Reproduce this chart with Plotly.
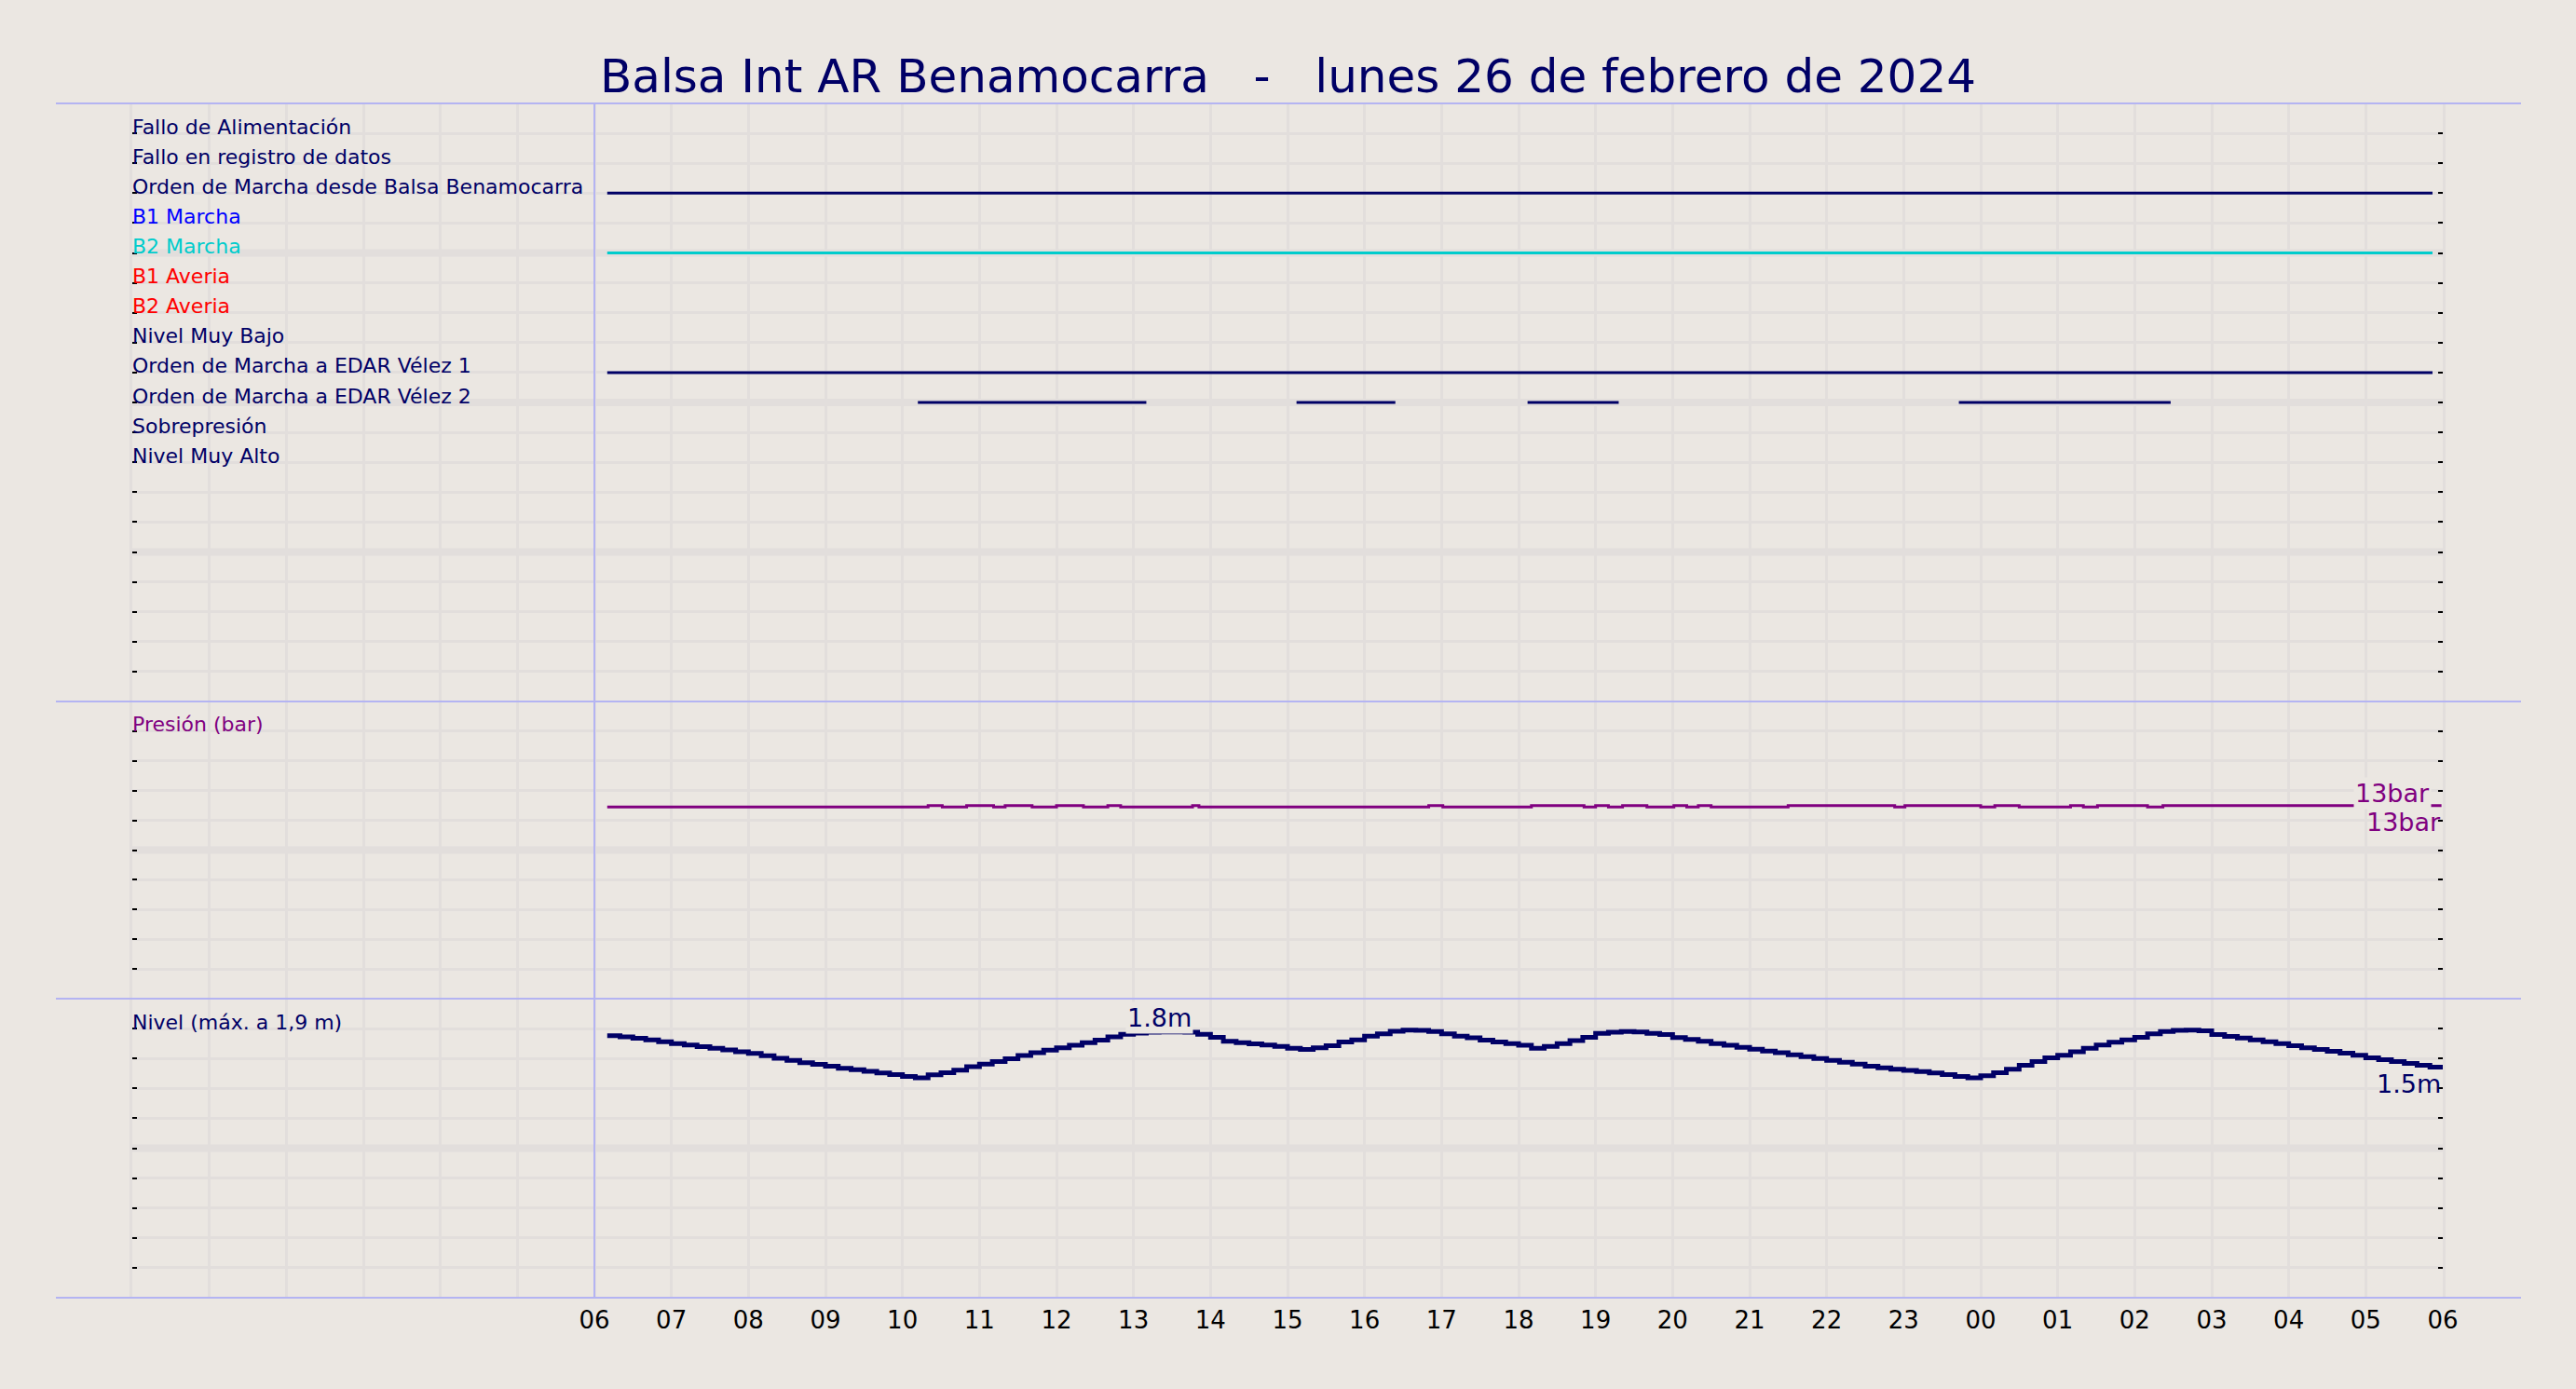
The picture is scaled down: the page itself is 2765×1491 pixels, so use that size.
# gráfico diario de la Balsa Int AR Benamocarra: señales, presión y nivel
import pandas as pd
import plotly.graph_objects as go

DAY0 = pd.Timestamp("2024-02-26 00:00")
DAY_END = pd.Timestamp("2024-02-27 06:00")
TITLE = "Balsa Int AR Benamocarra   -   lunes 26 de febrero de 2024"

# señales digitales, fila 1 arriba
signal_labels = [
    "Fallo de Alimentación",
    "Fallo en registro de datos",
    "Orden de Marcha desde Balsa Benamocarra",
    "B1 Marcha",
    "B2 Marcha",
    "B1 Averia",
    "B2 Averia",
    "Nivel Muy Bajo",
    "Orden de Marcha a EDAR Vélez 1",
    "Orden de Marcha a EDAR Vélez 2",
    "Sobrepresión",
    "Nivel Muy Alto",
]
signal_colors = ["#000066", "#000066", "#000066", "#0000ff", "#00cccc", "#ff0000",
                 "#ff0000", "#000066", "#000066", "#000066", "#000066", "#000066"]

# tramos en marcha de cada señal (inicio, fin)
signal_on = {
    "Orden de Marcha desde Balsa Benamocarra": [("06:10", "05:52")],
    "B2 Marcha": [("06:10", "05:52")],
    "Orden de Marcha a EDAR Vélez 1": [("06:10", "05:52")],
    "Orden de Marcha a EDAR Vélez 2": [("10:12", "13:10"), ("15:07", "16:24"),
                                       ("18:07", "19:18"), ("23:43", "02:28")],
}

# presión (bar), cambios de valor
pressure_t = ["06:10", "10:20", "10:31", "10:50", "11:11", "11:20", "11:41", "12:00",
              "12:21", "12:40", "12:50", "13:46", "13:51", "16:50", "17:01", "18:10",
              "18:51", "19:00", "19:10", "19:21", "19:40", "20:01", "20:11", "20:20",
              "20:30", "21:30", "22:53", "23:01", "00:00", "00:11", "00:30", "01:10",
              "01:20", "01:31", "02:10", "02:22", "05:59"]
pressure_v = [12.9, 13.0, 12.9, 13.0, 12.9, 13.0, 12.9, 13.0,
              12.9, 13.0, 12.9, 13.0, 12.9, 13.0, 12.9, 13.0,
              12.9, 13.0, 12.9, 13.0, 12.9, 13.0, 12.9, 13.0,
              12.9, 13.0, 12.9, 13.0, 12.9, 13.0, 12.9, 13.0,
              12.9, 13.0, 12.9, 13.0, 13.0]

# nivel (m), una lectura cada 10 minutos desde las 06:10
level_start = "06:10"
level_v = [
    1.753, 1.745, 1.735, 1.724, 1.712, 1.700, 1.690, 1.679, 1.668, 1.657, 1.645, 1.634,
    1.618, 1.602, 1.587, 1.572, 1.560, 1.548, 1.535, 1.525, 1.514, 1.503, 1.492, 1.480,
    1.470, 1.490, 1.505, 1.522, 1.545, 1.562, 1.580, 1.598, 1.620, 1.638, 1.655, 1.672,
    1.688, 1.705, 1.722, 1.745, 1.762, 1.770, 1.775, 1.778, 1.778, 1.775, 1.762, 1.742,
    1.715, 1.705, 1.698, 1.690, 1.680, 1.668, 1.660, 1.672, 1.685, 1.710, 1.725, 1.750,
    1.765, 1.782, 1.790, 1.788, 1.780, 1.765, 1.750, 1.738, 1.722, 1.710, 1.700, 1.688,
    1.668, 1.680, 1.700, 1.720, 1.742, 1.768, 1.775, 1.780, 1.778, 1.768, 1.760, 1.740,
    1.728, 1.715, 1.700, 1.688, 1.675, 1.662, 1.650, 1.638, 1.625, 1.612, 1.600, 1.588,
    1.575, 1.562, 1.548, 1.538, 1.528, 1.520, 1.512, 1.503, 1.492, 1.480, 1.470, 1.485,
    1.505, 1.528, 1.555, 1.580, 1.605, 1.622, 1.645, 1.668, 1.690, 1.708, 1.725, 1.742,
    1.765, 1.780, 1.788, 1.790, 1.785, 1.760, 1.748, 1.736, 1.724, 1.712, 1.700, 1.685,
    1.672, 1.660, 1.648, 1.636, 1.622, 1.605, 1.592, 1.580, 1.567, 1.555, 1.542, 1.540,
]

# marcas del eje superior
top_ticks = ["03:27", "07:12", "10:57", "14:42", "18:27", "22:12", "01:57", "05:42"]

BG = "#ebe7e2"
GRID = "#e2dedc"
SEP = "#b4b4f2"
NAVY = "#000066"
PURPLE = "#800080"
FONT = "DejaVu Sans"


def to_dt(hhmm):
    # las horas antes de las 06:00 son del día siguiente
    h, m = map(int, hhmm.split(":"))
    t = DAY0 + pd.Timedelta(hours=h, minutes=m)
    if h < 6:
        t += pd.Timedelta(days=1)
    return t


W, H = 2765, 1491
def px_x(p):
    return p / W
def px_y(p):
    return 1 - p / H

XDOM = [px_x(142), px_x(2622)]
Y1 = [px_y(753), px_y(111)]
Y2 = [px_y(1072), px_y(753)]
Y3 = [px_y(1393), px_y(1072)]

fig = go.Figure()

# señales
for row, name in enumerate(signal_labels, start=1):
    if name not in signal_on:
        continue
    xs, ys = [], []
    for a, b in signal_on[name]:
        xs += [to_dt(a), to_dt(b), None]
        ys += [row, row, None]
    fig.add_trace(go.Scatter(x=xs, y=ys, mode="lines", xaxis="x", yaxis="y",
                             line=dict(color=signal_colors[row - 1], width=3),
                             hoverinfo="skip", showlegend=False))

# presión
fig.add_trace(go.Scatter(x=[to_dt(t) for t in pressure_t], y=pressure_v, mode="lines",
                         xaxis="x2", yaxis="y2", line=dict(color=PURPLE, width=3, shape="hv"),
                         showlegend=False))

# nivel
level_t = pd.date_range(to_dt(level_start), periods=len(level_v), freq="10min")
fig.add_trace(go.Scatter(x=level_t, y=level_v, mode="lines", xaxis="x3", yaxis="y3",
                         line=dict(color=NAVY, width=5, shape="hv"), showlegend=False))

hour_ticks = pd.date_range(DAY0 + pd.Timedelta(hours=6), DAY_END, freq="h")
hour_text = [t.strftime("%H") for t in hour_ticks]

xcommon = dict(domain=XDOM, range=[DAY0, DAY_END], tickmode="array", tickvals=hour_ticks,
               ticktext=hour_text, showgrid=True, gridcolor=GRID, gridwidth=3,
               zeroline=False, showline=False, ticks="", automargin=False,
               minor=dict(dtick=3600000, tick0=DAY0, showgrid=True, gridcolor=GRID,
                          gridwidth=3, ticks=""))
ycommon = dict(ticks="inside", ticklen=5, tickwidth=2, tickcolor="black",
               showticklabels=False, showgrid=True, gridcolor=GRID, gridwidth=3,
               zeroline=False, showline=True, linecolor=GRID, linewidth=3, mirror="ticks",
               automargin=False)

# sin ancho fijo: la figura toma el ancho de la ventana
fig.update_layout(
    height=H,
    margin=dict(l=0, r=0, t=0, b=0, pad=0),
    paper_bgcolor=BG, plot_bgcolor=BG,
    font=dict(family=FONT, color=NAVY),
    showlegend=False,
    title=dict(text=TITLE.replace(" ", "\u00a0"), x=0.5, xanchor="center",
               y=px_y(81), yanchor="middle", automargin=False,
               font=dict(size=50, color=NAVY, family=FONT)),
    xaxis=dict(xcommon, anchor="y", showticklabels=False),
    xaxis2=dict(xcommon, anchor="y2", matches="x", showticklabels=False),
    xaxis3=dict(xcommon, anchor="y3", matches="x", showticklabels=True,
                tickfont=dict(size=26, color="black", family=FONT), ticklabelstandoff=6),
    xaxis4=dict(domain=XDOM, range=[DAY0, DAY_END], overlaying="x", anchor="y", side="top",
                tickmode="array", tickvals=[to_dt(t) for t in top_ticks], ticks="inside",
                ticklen=7, tickwidth=2, tickcolor="black", showticklabels=False,
                showgrid=False, zeroline=False, showline=False, automargin=False),
    yaxis=dict(ycommon, domain=Y1, range=[20, 0], tickvals=list(range(1, 20)), anchor="x"),
    yaxis2=dict(ycommon, domain=Y2, range=[0, 20], tickvals=list(range(2, 20, 2)), anchor="x2"),
    yaxis3=dict(ycommon, domain=Y3, range=[0, 2],
                tickvals=[0.2, 0.4, 0.6, 0.8, 1.0, 1.2, 1.4, 1.6, 1.8], anchor="x3"),
)

# líneas gruesas de la rejilla cada cinco divisiones
for yref, val in [("y", 5), ("y", 10), ("y", 15), ("y2", 10), ("y3", 1.0)]:
    fig.add_shape(type="line", xref="x domain", yref=yref, x0=0, x1=1, y0=val, y1=val,
                  line=dict(color=GRID, width=8), layer="below")

# separadores de paneles
for p in [111, 753, 1072, 1393]:
    fig.add_shape(type="line", xref="paper", yref="paper", x0=px_x(60), x1=px_x(2706),
                  y0=px_y(p), y1=px_y(p), line=dict(color=SEP, width=2))
fig.add_shape(type="line", xref="x", yref="paper", x0=hour_ticks[0], x1=hour_ticks[0],
              y0=px_y(1393), y1=px_y(111), line=dict(color=SEP, width=2))

# etiquetas de filas
for row, name in enumerate(signal_labels, start=1):
    fig.add_annotation(text=name, xref="x domain", yref="y", x=0, y=row, xanchor="left",
                       yanchor="middle", yshift=7, xshift=-2, showarrow=False,
                       font=dict(size=22, color=signal_colors[row - 1], family=FONT))
fig.add_annotation(text="Presión (bar)", xref="x2 domain", yref="y2", x=0, y=18,
                   xanchor="left", yanchor="middle", yshift=7, xshift=-2, showarrow=False,
                   font=dict(size=22, color=PURPLE, family=FONT))
fig.add_annotation(text="Nivel (máx. a 1,9 m)", xref="x3 domain", yref="y3", x=0, y=1.8,
                   xanchor="left", yanchor="middle", yshift=7, xshift=-2, showarrow=False,
                   font=dict(size=22, color=NAVY, family=FONT))

# valores destacados
p_max = max(pressure_v)
p_last = pressure_v[-1]
fig.add_annotation(text=f"{p_max:.0f}bar", xref="x2", yref="y2", x=DAY_END, y=p_max,
                   xanchor="right", yanchor="bottom", xshift=-12, yshift=-4, showarrow=False,
                   bgcolor=BG, font=dict(size=27, color=PURPLE, family=FONT))
fig.add_annotation(text=f"{p_last:.0f}bar", xref="x2", yref="y2", x=DAY_END, y=p_last,
                   xanchor="right", yanchor="top", showarrow=False,
                   font=dict(size=27, color=PURPLE, family=FONT))
i_max = level_v.index(max(level_v[:60]))
fig.add_annotation(text=f"{level_v[i_max]:.1f}m", xref="x3", yref="y3",
                   x=level_t[i_max], y=level_v[i_max], xanchor="center", yanchor="bottom",
                   yshift=-2, showarrow=False, bgcolor=BG,
                   font=dict(size=27, color=NAVY, family=FONT))
fig.add_annotation(text=f"{level_v[-1]:.1f}m", xref="x3", yref="y3", x=DAY_END,
                   y=level_v[-1], xanchor="right", yanchor="top", showarrow=False,
                   font=dict(size=27, color=NAVY, family=FONT))

# sin margen ni barras de desplazamiento; la figura ocupa todo el ancho de la ventana
fig.write_html(
    "out.html",
    config={"displayModeBar": False},
    post_script=("document.documentElement.style.overflow='hidden';"
                 "document.body.style.margin='0';"
                 "document.body.style.overflow='hidden';"
                 "Plotly.relayout(document.getElementById('{plot_id}'),"
                 "{width: window.innerWidth});"),
)
